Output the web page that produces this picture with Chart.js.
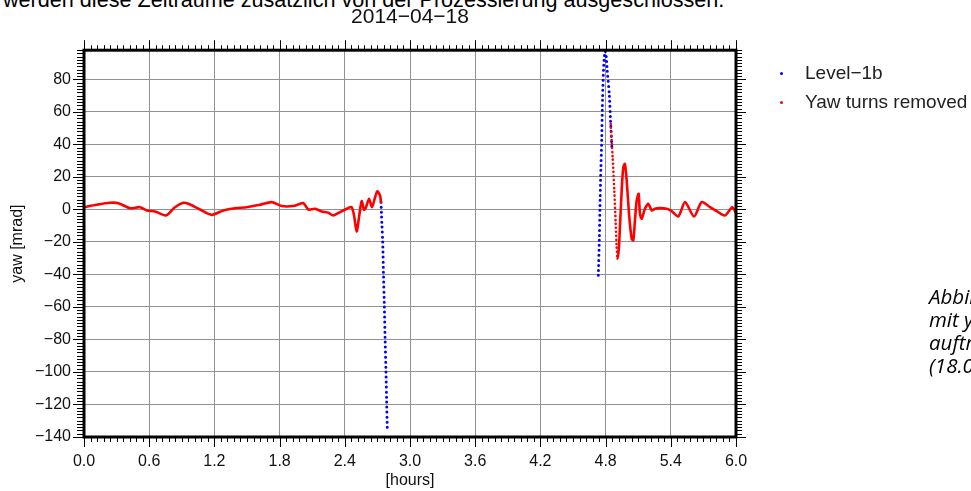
<!DOCTYPE html>
<html>
<head>
<meta charset="utf-8">
<script src="https://cdn.jsdelivr.net/npm/chart.js@4.4.1/dist/chart.umd.min.js"></script>
<style>
  html, body { margin: 0; padding: 0; background: #fff; overflow: hidden; width: 971px; height: 491px; }
  body { position: relative; font-family: "Liberation Sans", Arial, sans-serif; color: #111; }
  #wrap { position: absolute; left: 0; top: 0; width: 971px; height: 491px; }
  .doc { position: absolute; white-space: nowrap; color: #000; }
  #topline { left: 3px; top: -12px; font-size: 21.6px; line-height: 24px; }
  #caption { left: 929px; top: 285px; font-family: "Open Sans", sans-serif; font-style: italic; font-size: 20.5px; line-height: 23px; }
  .leg { position: absolute; left: 780px; font-size: 19px; line-height: 22px; color: #222; white-space: nowrap; }
  .leg i { display: inline-block; width: 3px; height: 3px; border-radius: 50%; margin-right: 22px; vertical-align: middle; }
</style>
</head>
<body>
<div class="doc" id="topline">werden diese Zeiträume zusätzlich von der Prozessierung ausgeschlossen.</div>
<div id="wrap"><canvas id="yawChart"></canvas></div>
<div class="leg" style="top:62px"><i style="background:#0000ff"></i>Level−1b</div>
<div class="leg" style="top:91px"><i style="background:#ff0000"></i>Yaw turns removed</div>
<div class="doc" id="caption">Abbildung<br>mit yaw<br>auftretenden<br>(18.04.2014)</div>
<script>
// tick labels
const xTicks = [0, 0.6, 1.2, 1.8, 2.4, 3.0, 3.6, 4.2, 4.8, 5.4, 6.0];
const yTicks = [-140, -120, -100, -80, -60, -40, -20, 0, 20, 40, 60, 80];

// Level-1b, only the parts that are not covered by the red series and inside the axis range
const blueHoursA = [2.733, 2.737, 2.742, 2.749, 2.756, 2.764, 2.771, 2.779, 2.785, 2.791];
const blueYawA   = [4.5, -2, -10, -20, -40, -60, -80, -100, -118, -135];
const blueHoursB = [4.733, 4.742, 4.748, 4.755, 4.764, 4.770, 4.779, 4.788, 4.797, 4.806, 4.815, 4.834, 4.847, 4.859];
const blueYawB   = [-40.5, -19, 1.4, 21.9, 42.4, 62.8, 83.3, 94, 97.5, 94, 85.4, 71, 52.6, 36];

// yaw turns removed
const redHoursA = [0, 0.117, 0.239, 0.316, 0.423, 0.515, 0.577, 0.653, 0.755, 0.837, 0.914, 0.960,
  1.067, 1.175, 1.282, 1.390, 1.497, 1.620, 1.727, 1.819, 1.926, 2.018, 2.064, 2.126, 2.187, 2.248,
  2.294, 2.356, 2.417, 2.463, 2.485, 2.509, 2.531, 2.555, 2.577, 2.595, 2.623, 2.650, 2.675, 2.699, 2.724, 2.733];
const redYawA = [1.4, 2.9, 4.1, 3.9, 0.8, 1.4, -0.6, -1.2, -3.7, 1.4, 4.1, 3.5,
  0, -3.3, -0.6, 0.8, 1.4, 2.9, 4.5, 2.1, 2.1, 3.9, 0, 0.4, -1.2, -2.0,
  -3.7, -1.6, 0.4, 1.4, -3.7, -13.5, -4.7, 5.1, -0.2, 1.4, 6.6, 1.4, 6.6, 11.2, 8.6, 4.5];
const redHoursB = [4.847, 4.865, 4.880, 4.893, 4.902, 4.911, 4.923, 4.932, 4.948, 4.963, 4.978, 4.994,
  5.018, 5.040, 5.055, 5.070, 5.086, 5.104, 5.116, 5.132, 5.162, 5.193, 5.224, 5.254, 5.300, 5.362,
  5.408, 5.469, 5.531, 5.614, 5.684, 5.761, 5.822, 5.898, 5.966, 6.0];
const redYawB = [52.6, 32, 11.7, -8.8, -23, -30.3, -23, -10.9, 11.7, 26, 28, 17.8,
  -4.7, -18, -19, -6.8, 5.5, 9.6, -2.6, -5.7, 0.4, 3.5, -0.6, 0.4, 0.8, 0.4,
  -1, -4.3, 4.5, -4.3, 4.5, 1.4, -1, -3.7, 1.4, -2.3];
// fast part right after the turn, the samples show up as single dots there
const redSparse = [4.84, 4.912];

const pts = (xs, ys) => xs.map((x, i) => ({x: x, y: ys[i]}));
const gap = {x: 3.5, y: null};
const minus = v => String(v).replace('-', '\u2212');

// frame, minor ticks outside the plot like GMT draws them
const gmtFrame = {
  id: 'gmtFrame',
  afterDraw(chart) {
    const {ctx, chartArea: a, scales: {x, y}} = chart;
    ctx.save();
    ctx.strokeStyle = '#000';
    ctx.lineWidth = 1;
    ctx.beginPath();
    for (let i = 0; i <= 100; i++) {
      const px = Math.round(x.getPixelForValue(i * 0.06)) + 0.5;
      const len = i % 10 === 0 ? 10 : 5;
      ctx.moveTo(px, a.bottom); ctx.lineTo(px, a.bottom + len);
      ctx.moveTo(px, a.top); ctx.lineTo(px, a.top - len);
    }
    for (let v = -140; v <= 98; v += 2) {
      const py = Math.round(y.getPixelForValue(v)) + 0.5;
      const major = v % 20 === 0;
      ctx.moveTo(a.left, py); ctx.lineTo(a.left - (major ? 11 : 7), py);
      ctx.moveTo(a.right, py); ctx.lineTo(a.right + (major ? 10 : 6), py);
    }
    ctx.stroke();
    ctx.lineWidth = 3;
    ctx.strokeRect(a.left, a.top, a.right - a.left, a.bottom - a.top);
    ctx.restore();
  }
};

new Chart(document.getElementById('yawChart'), {
  type: 'line',
  data: {
    datasets: [
      {
        label: 'Level-1b',
        data: pts(blueHoursA, blueYawA).concat([gap], pts(blueHoursB, blueYawB)),
        borderColor: '#0000ff',
        borderWidth: 3,
        borderDash: [0, 5],
        borderCapStyle: 'round',
        pointRadius: 0,
        tension: 0.2,
        spanGaps: false,
        order: 2
      },
      {
        label: 'Yaw turns removed',
        data: pts(redHoursA, redYawA).concat([gap], pts(redHoursB, redYawB)),
        borderColor: '#ff0000',
        borderWidth: 2.6,
        borderCapStyle: 'round',
        borderJoinStyle: 'round',
        pointRadius: 0,
        tension: 0.25,
        spanGaps: false,
        order: 1,
        segment: {
          borderDash: c => (c.p0.parsed.x >= redSparse[0] && c.p1.parsed.x <= redSparse[1]) ? [0, 4] : undefined
        }
      }
    ]
  },
  options: {
    responsive: true,
    maintainAspectRatio: false,
    animation: false,
    events: [],
    layout: { padding: { left: 0, right: 235, top: 0, bottom: 0 } },
    plugins: {
      legend: { display: false },
      tooltip: { enabled: false },
      title: {
        display: true,
        fullSize: false,
        text: '2014\u221204\u221218',
        color: '#111',
        font: { family: 'Liberation Sans', size: 21, weight: 'normal' },
        padding: { top: 5, bottom: 20 }
      }
    },
    scales: {
      x: {
        type: 'linear',
        min: 0,
        max: 6,
        afterBuildTicks: s => { s.ticks = xTicks.map(v => ({value: v})); },
        afterFit: s => { s.height = 54; },
        grid: { color: '#929292', lineWidth: 1, drawTicks: false },
        border: { display: false },
        ticks: {
          autoSkip: false, maxRotation: 0, padding: 15, color: '#111',
          font: { family: 'Liberation Sans', size: 16 },
          callback: v => v.toFixed(1)
        },
        title: {
          display: true, text: '[hours]', color: '#111',
          font: { family: 'Liberation Sans', size: 16 },
          padding: { top: 0, bottom: 1 }
        }
      },
      y: {
        type: 'linear',
        min: -140,
        max: 98,
        afterBuildTicks: s => { s.ticks = yTicks.map(v => ({value: v})); },
        afterFit: s => { s.width = 84; },
        grid: { color: '#929292', lineWidth: 1, drawTicks: false },
        border: { display: false },
        ticks: {
          autoSkip: false, padding: 13, color: '#111',
          font: { family: 'Liberation Sans', size: 16 },
          callback: v => minus(v)
        },
        title: {
          display: true, text: 'yaw [mrad]', color: '#111',
          font: { family: 'Liberation Sans', size: 16 },
          padding: { top: 8, bottom: 0 }
        }
      }
    }
  },
  plugins: [gmtFrame]
});
</script>
</body>
</html>
